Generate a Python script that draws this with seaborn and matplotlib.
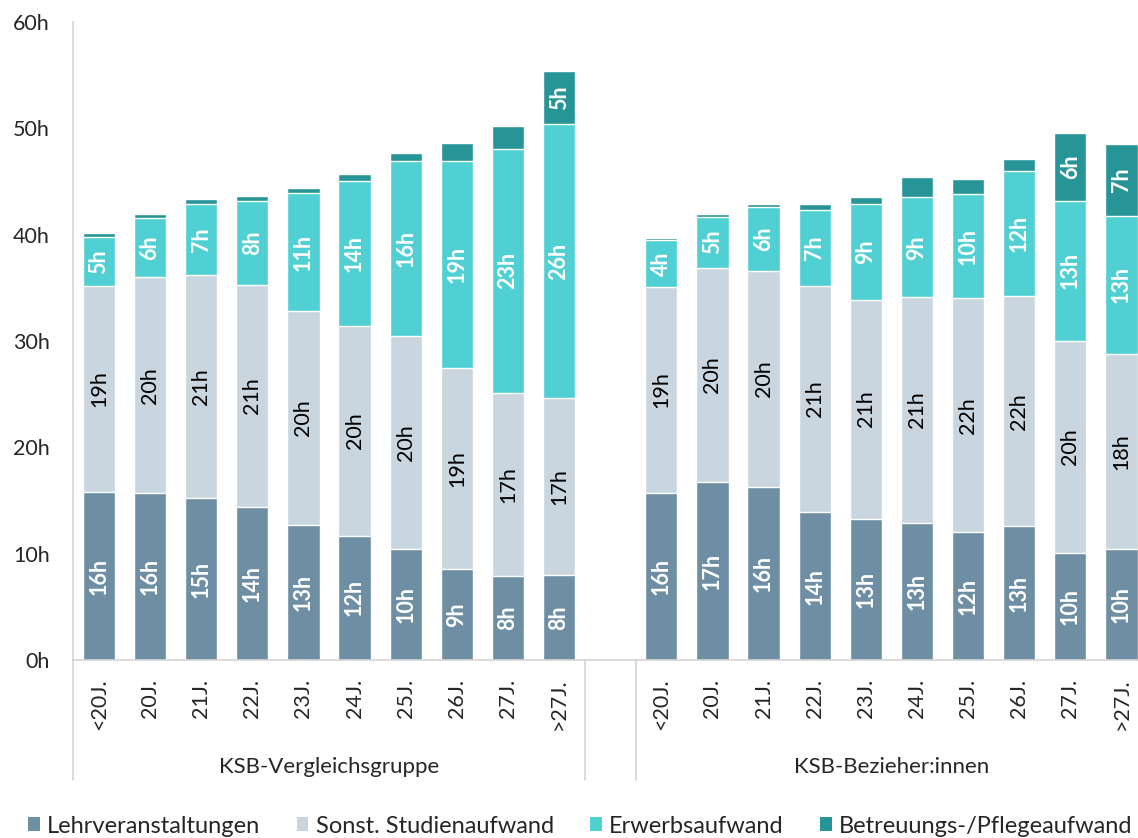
import numpy as np
import pandas as pd
import matplotlib
matplotlib.use("Agg")
import matplotlib.pyplot as plt
import matplotlib.transforms as mtransforms
from matplotlib.patches import Patch
import seaborn as sns

# ---- data -------------------------------------------------------------
ages = ["<20J.", "20J.", "21J.", "22J.", "23J.", "24J.", "25J.", "26J.", "27J.", ">27J."]
groups = ["KSB-Vergleichsgruppe", "KSB-Bezieher:innen"]
components = ["Lehrveranstaltungen", "Sonst. Studienaufwand", "Erwerbsaufwand",
              "Betreuungs-/Pflegeaufwand"]

# hours per week, KSB-Vergleichsgruppe
lehr_v = [15.8, 15.7, 15.2, 14.4, 12.7, 11.7, 10.4, 8.6, 7.9, 8.0]
sonst_v = [19.4, 20.3, 21.0, 20.9, 20.1, 19.7, 20.1, 18.9, 17.2, 16.6]
erw_v = [4.6, 5.6, 6.7, 7.9, 11.1, 13.6, 16.4, 19.4, 23.0, 25.8]
bet_v = [0.4, 0.3, 0.5, 0.4, 0.5, 0.7, 0.8, 1.7, 2.1, 5.0]

# hours per week, KSB-Bezieher:innen
lehr_b = [15.7, 16.7, 16.3, 13.9, 13.3, 12.9, 12.0, 12.6, 10.1, 10.4]
sonst_b = [19.4, 20.2, 20.3, 21.3, 20.6, 21.2, 22.0, 21.6, 19.9, 18.4]
erw_b = [4.4, 4.8, 6.0, 7.1, 9.0, 9.4, 9.8, 11.8, 13.2, 13.0]
bet_b = [0.2, 0.2, 0.3, 0.6, 0.6, 1.9, 1.4, 1.1, 6.4, 6.7]

colors = ["#6E8FA3", "#CAD6DF", "#50D0D3", "#279597"]
label_colors = ["white", "black", "white", "white"]
label_weights = ["bold", "normal", "bold", "bold"]

# ---- table ------------------------------------------------------------
rows = []
series = {groups[0]: [lehr_v, sonst_v, erw_v, bet_v],
          groups[1]: [lehr_b, sonst_b, erw_b, bet_b]}
for g_i, g in enumerate(groups):
    for a_i, age in enumerate(ages):
        slot = a_i + g_i * (len(ages) + 1)
        row = {"group": g, "age": age, "slot": slot}
        for c, vals in zip(components, series[g]):
            row[c] = vals[a_i]
        rows.append(row)
df = pd.DataFrame(rows)
cum = df[components].cumsum(axis=1)
for c in components:
    df["cum_" + c] = cum[c]
    df["base_" + c] = cum[c] - df[c]

# ---- figure -----------------------------------------------------------
sns.set_style("white")
plt.rcParams["font.family"] = ["Lato", "DejaVu Sans"]

fig = plt.figure(figsize=(11.38, 8.38), dpi=100)
ax = fig.add_axes([73.4 / 1138, 178 / 838, (1147 - 73.4) / 1138, 638 / 838])

# stacked bars: draw cumulative totals from the top layer down
for c, col in reversed(list(zip(components, colors))):
    sns.barplot(data=df, x="slot", y="cum_" + c, native_scale=True, color=col,
                saturation=1, width=0.63, edgecolor="white", linewidth=1.0,
                errorbar=None, ax=ax)

# value labels inside segments
for _, r in df.iterrows():
    for c, lc, lw in zip(components, label_colors, label_weights):
        v = r[c]
        if v < 3:
            continue
        ax.text(r["slot"], r["base_" + c] + v / 2, f"{v:.0f}h", rotation=90,
                ha="center", va="center", color=lc, fontweight=lw,
                fontsize=15.5)

grid_col = "#D4D4D4"
ax.set_xlim(-0.5, 20.5)
ax.set_ylim(0, 60)
ax.set_yticks(range(0, 61, 10))
ax.set_yticklabels([f"{t}h" for t in range(0, 61, 10)], fontsize=15.5)
ax.set_xticks(df["slot"])
ax.set_xticklabels(df["age"], rotation=90, fontsize=15.5, va="top")
ax.tick_params(axis="x", length=0, pad=13.5)
ax.tick_params(axis="y", length=6, width=1.2, color=grid_col, pad=11)
ax.set_xlabel("")
ax.set_ylabel("")
for s in ["top", "right"]:
    ax.spines[s].set_visible(False)
for s in ["left", "bottom"]:
    ax.spines[s].set_color(grid_col)
    ax.spines[s].set_linewidth(1.2)

# group separators and group labels below the axis
trans = mtransforms.blended_transform_factory(ax.transData, ax.transAxes)
for xb in [-0.5, 9.5, 10.5, 20.5]:
    ax.plot([xb, xb], [0, -0.188], transform=trans, color=grid_col, lw=1.2,
            clip_on=False)
for g_i, g in enumerate(groups):
    xc = 4.5 + g_i * (len(ages) + 1)
    ax.text(xc, -0.168, g, transform=trans, ha="center", va="center",
            fontsize=16)

handles = [Patch(facecolor=c, edgecolor="none") for c in colors]
fig.legend(handles, components, loc="center", bbox_to_anchor=(0.51, 1 - 826 / 838),
           ncol=4, frameon=False, fontsize=17, handlelength=0.5,
           handleheight=0.5, handletextpad=0.3, columnspacing=1.55)

fig.savefig("out.png", dpi=100)
